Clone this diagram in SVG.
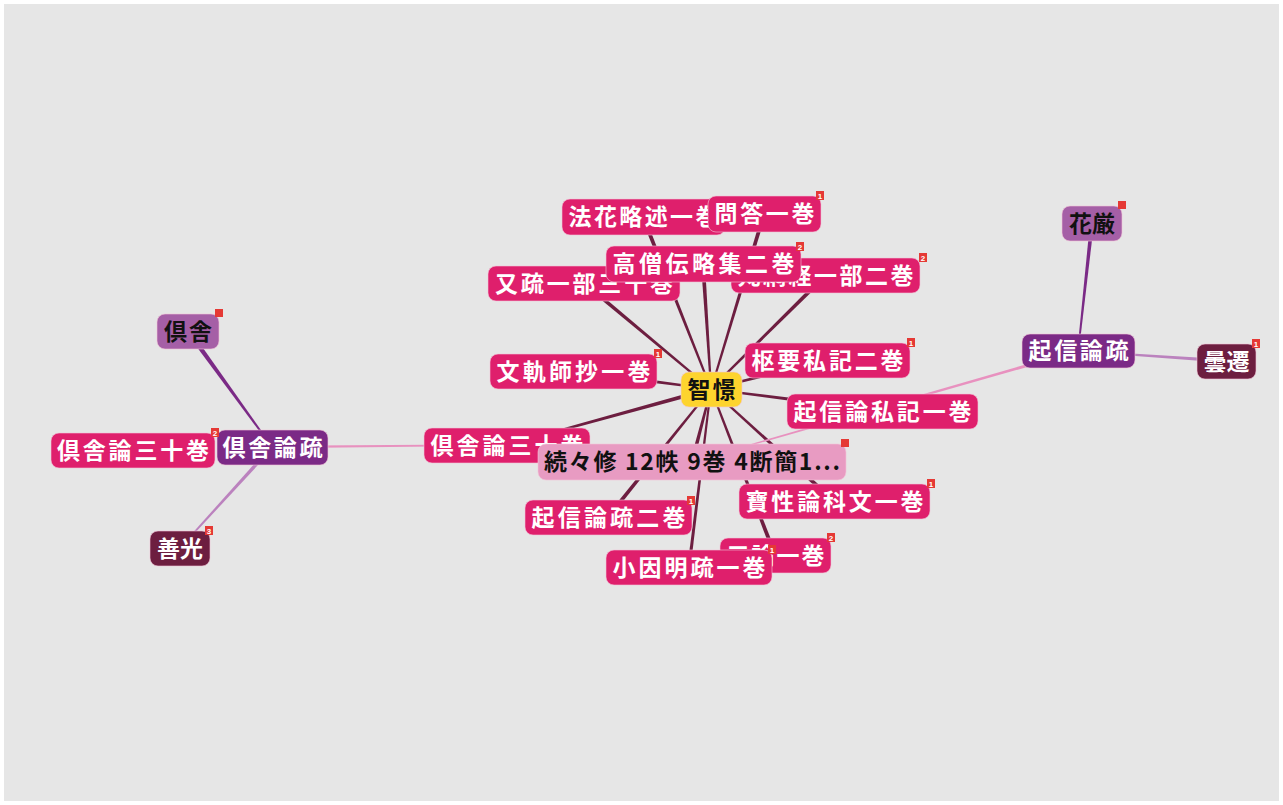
<svg xmlns="http://www.w3.org/2000/svg" width="1283" height="805" viewBox="0 0 1283 805">
<style>
.bg{fill:#e6e6e6}
.n rect.b{stroke:#f3c6d8;stroke-opacity:0.6;stroke-width:1}
.mag{fill:#df1f6c}
.pur{fill:#7b2a86}
.lpur{fill:#a55fa6}
.mar{fill:#6d1e40}
.yel{fill:#fdd42e}
.pnk{fill:#e89bc2}
.t{font-family:"Noto Sans CJK JP","Noto Sans CJK SC",sans-serif;font-size:23px;font-weight:700;text-anchor:middle;fill:#ffffff}
.k{fill:#111111}
.bd{fill:#e53935}
.bt{font-family:"Liberation Sans",sans-serif;font-size:8px;font-weight:700;fill:#ffffff;text-anchor:middle}
.sp{fill:#6d1e40}
.ep{fill:#7b2a86}
.el{fill:#bb82be}
.epk{fill:#e891bf}
</style>
<rect x="0" y="0" width="1283" height="805" fill="#ffffff"/>
<rect class="bg" x="4" y="4" width="1275" height="797"/>
<g id="edges">
<polygon class="sp" points="0,-2 185,-1 185,1 0,2" transform="translate(643,217) rotate(68.4)"/>
<polygon class="sp" points="0,-2 183,-1 183,1 0,2" transform="translate(764,214) rotate(106.8)"/>
<polygon class="sp" points="0,-2 125,-1 125,1 0,2" transform="translate(703,264) rotate(86.3)"/>
<polygon class="sp" points="0,-2 160,-1 160,1 0,2" transform="translate(825,276) rotate(135.3)"/>
<polygon class="sp" points="0,-2 165,-1 165,1 0,2" transform="translate(584,283) rotate(39.9)"/>
<polygon class="sp" points="0,-2 139,-1 139,1 0,2" transform="translate(573,371) rotate(7.4)"/>
<polygon class="sp" points="0,-2 120,-1 120,1 0,2" transform="translate(827,360) rotate(166)"/>
<polygon class="sp" points="0,-2 172,-1 172,1 0,2" transform="translate(882,411) rotate(-172.7)"/>
<polygon class="sp" points="0,-1 211,-2 211,2 0,1" transform="translate(507,445) rotate(-15.4)"/>
<polygon class="sp" points="0,-2 75,-1 75,1 0,2" transform="translate(692,462) rotate(-75.4)"/>
<polygon class="sp" points="0,-2 164,-1 164,1 0,2" transform="translate(608,517) rotate(-51.2)"/>
<polygon class="sp" points="0,-2 166,-1 166,1 0,2" transform="translate(834,501) rotate(-137.7)"/>
<polygon class="sp" points="0,-2 178,-1 178,1 0,2" transform="translate(775,555) rotate(-111.1)"/>
<polygon class="sp" points="0,-1.6 179,-1 179,1 0,1.6" transform="translate(689,567) rotate(-83)"/>
<polygon class="ep" points="0,-2.4 143,-0.8 143,0.8 0,2.4" transform="translate(188,331) rotate(54.1)"/>
<polygon class="el" points="0,-2 137,-0.7 137,0.7 0,2" transform="translate(272,447) rotate(132.3)"/>
<polygon class="ep" points="0,-2 129,-0.8 129,0.8 0,2" transform="translate(1092,223) rotate(96.2)"/>
<polygon class="el" points="0,-1.8 148,-0.7 148,0.7 0,1.8" transform="translate(1226,361) rotate(-176.1)"/>
<polygon class="epk" points="0,-1.5 402,-0.6 402,0.6 0,1.5" transform="translate(1078,351) rotate(164)"/>
<polygon class="epk" points="0,-1.3 235,-0.8 235,0.8 0,1.3" transform="translate(272,447) rotate(-0.5)"/>
</g>
<g id="n-hokke" class="n"><rect class="b mag" x="562" y="199" width="163" height="36" rx="8"/><text class="t" x="643.5" y="225" textLength="150">法花略述一巻</text></g>
<g id="n-mata" class="n"><rect class="b mag" x="488" y="266" width="192" height="35" rx="8"/><text class="t" x="584" y="291.5" textLength="178">又疏一部三十巻</text></g>
<g id="n-bonmo" class="n"><rect class="b mag" x="731" y="258" width="189" height="35" rx="8"/><text class="t" x="825.5" y="284" textLength="176">梵網経一部二巻</text><rect class="bd" x="919" y="253" width="8" height="9"/><text class="bt" x="923" y="260.5">2</text></g>
<g id="n-mondo" class="n"><rect class="b mag" x="708" y="196" width="113" height="36" rx="8"/><text class="t" x="764.5" y="222" textLength="100">問答一巻</text><rect class="bd" x="816" y="191" width="8" height="9"/><text class="bt" x="820" y="198.5">1</text></g>
<g id="n-koso" class="n"><rect class="b mag" x="606" y="246" width="195" height="36" rx="8"/><text class="t" x="703.5" y="272" textLength="182">高僧伝略集二巻</text><rect class="bd" x="796" y="242" width="8" height="9"/><text class="bt" x="800" y="249.5">2</text></g>
<g id="n-bunki" class="n"><rect class="b mag" x="490" y="354" width="167" height="35" rx="8"/><text class="t" x="573.5" y="379.5" textLength="154">文軌師抄一巻</text><rect class="bd" x="654" y="349" width="8" height="9"/><text class="bt" x="658" y="356.5">1</text></g>
<g id="n-suyo" class="n"><rect class="b mag" x="745" y="343" width="165" height="35" rx="8"/><text class="t" x="827.5" y="368.5" textLength="152">枢要私記二巻</text><rect class="bd" x="907" y="338" width="8" height="9"/><text class="bt" x="911" y="345.5">1</text></g>
<g id="n-kishinshiki" class="n"><rect class="b mag" x="787" y="394" width="191" height="35" rx="8"/><text class="t" x="882.5" y="419.5" textLength="178">起信論私記一巻</text></g>
<g id="n-kusharon-c" class="n"><rect class="b mag" x="424" y="428" width="166" height="35" rx="8"/><text class="t" x="507" y="453.5" textLength="153">倶舎論三十巻</text></g>
<g id="n-zokuzoku" class="n"><rect class="b pnk" x="538" y="444" width="308" height="36" rx="8"/><text class="t k" x="692" y="470" textLength="296">続々修 12帙 9巻 4断簡1...</text><rect class="bd" x="841" y="439" width="8" height="8"/></g>
<g id="n-kishinso2" class="n"><rect class="b mag" x="525" y="500" width="167" height="35" rx="8"/><text class="t" x="608.5" y="525.5" textLength="154">起信論疏二巻</text><rect class="bd" x="687" y="496" width="8" height="9"/><text class="bt" x="691" y="503.5">1</text></g>
<g id="n-hosho" class="n"><rect class="b mag" x="739" y="484" width="191" height="35" rx="8"/><text class="t" x="834.5" y="509.5" textLength="178">寶性論科文一巻</text><rect class="bd" x="927" y="479" width="8" height="9"/><text class="bt" x="931" y="486.5">1</text></g>
<g id="n-sanron" class="n"><rect class="b mag" x="720" y="538" width="111" height="35" rx="8"/><text class="t" x="775.5" y="563.5" textLength="98">三論一巻</text><rect class="bd" x="827" y="533" width="8" height="9"/><text class="bt" x="831" y="540.5">2</text></g>
<g id="n-shoinmyo" class="n"><rect class="b mag" x="606" y="550" width="166" height="35" rx="8"/><text class="t" x="689" y="575.5" textLength="153">小因明疏一巻</text><rect class="bd" x="768" y="545" width="8" height="9"/><text class="bt" x="772" y="552.5">1</text></g>
<g id="n-chikei" class="n"><rect class="b yel" x="681" y="372" width="61" height="35" rx="8"/><text class="t k" x="711.5" y="397.5" textLength="48">智憬</text></g>
<g id="n-kusharon-l" class="n"><rect class="b mag" x="51" y="433" width="164" height="35" rx="8"/><text class="t" x="133" y="458.5" textLength="152">倶舎論三十巻</text></g>
<g id="n-kusharonso" class="n"><rect class="b pur" x="217" y="430" width="111" height="35" rx="8"/><text class="t" x="272.5" y="455.5" textLength="100">倶舎論疏</text></g>
<g id="b-kusharon-l"><rect class="bd" x="211" y="428" width="8" height="9"/><text class="bt" x="215" y="435.5">2</text></g>
<g id="n-kusha" class="n"><rect class="b lpur" x="157" y="314" width="62" height="35" rx="8"/><text class="t k" x="188" y="339.5" textLength="48">倶舎</text><rect class="bd" x="215" y="309" width="8" height="8"/></g>
<g id="n-zenko" class="n"><rect class="b mar" x="150" y="531" width="60" height="35" rx="8"/><text class="t" x="180" y="556.5" textLength="46">善光</text><rect class="bd" x="205" y="526" width="8" height="9"/><text class="bt" x="209" y="533.5">3</text></g>
<g id="n-kishinso" class="n"><rect class="b pur" x="1022" y="334" width="113" height="34" rx="8"/><text class="t" x="1078.5" y="359" textLength="100">起信論疏</text></g>
<g id="n-kegon" class="n"><rect class="b lpur" x="1062" y="206" width="60" height="35" rx="8"/><text class="t k" x="1092" y="231.5" textLength="46">花厳</text><rect class="bd" x="1118" y="201" width="8" height="8"/></g>
<g id="n-donsen" class="n"><rect class="b mar" x="1197" y="344" width="59" height="35" rx="8"/><text class="t" x="1226.5" y="369.5" textLength="46">曇遷</text><rect class="bd" x="1252" y="339" width="8" height="9"/><text class="bt" x="1256" y="346.5">1</text></g>
</svg>
